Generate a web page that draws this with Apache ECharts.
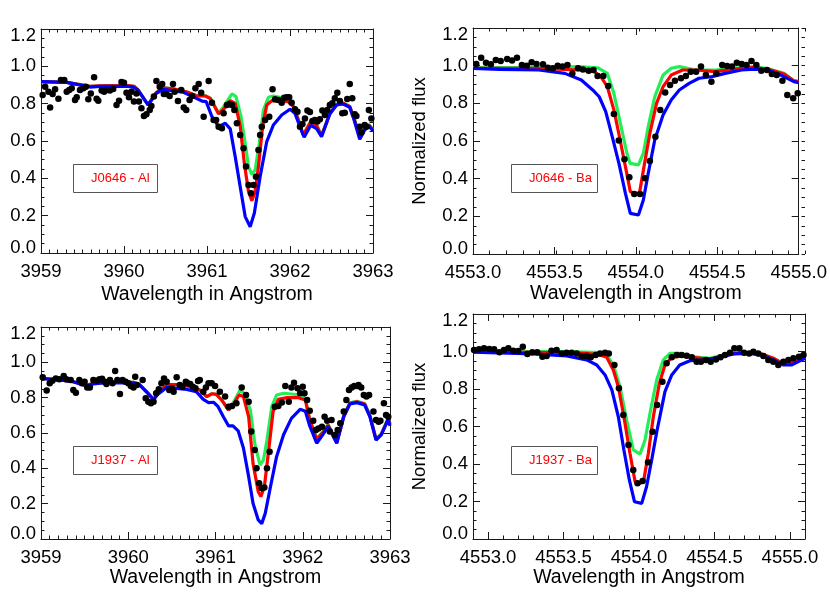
<!DOCTYPE html>
<html><head><meta charset="utf-8">
<script src="https://cdn.jsdelivr.net/npm/echarts@6/dist/echarts.min.js"></script>
<style>html,body{margin:0;padding:0;background:#fff}#c{width:830px;height:593px}</style>
</head><body><div id="c"></div>
<script>
// ---------------- DATA ----------------
// Tick values
const alXMajor = [3959, 3960, 3961, 3962, 3963];
const baXMajor = [4553.0, 4553.5, 4554.0, 4554.5, 4555.0];
const yMajor = [0.0, 0.2, 0.4, 0.6, 0.8, 1.0, 1.2];

// Panel labels
const panelLabels = ['J0646 - Al', 'J0646 - Ba', 'J1937 - Al', 'J1937 - Ba'];
const xTitle = 'Wavelength in Angstrom';
const yTitle = 'Normalized flux';

// ---- J0646 - Al ----
const j0646AlObs = [[3959.02,0.846],[3959.05,0.891],[3959.09,0.864],[3959.11,0.78],[3959.14,0.852],[3959.17,0.877],[3959.21,0.827],[3959.24,0.927],[3959.28,0.927],[3959.31,0.864],[3959.34,0.873],[3959.37,0.882],[3959.41,0.82],[3959.43,0.834],[3959.47,0.873],[3959.51,0.882],[3959.54,0.891],[3959.57,0.823],[3959.60,0.855],[3959.64,0.941],[3959.67,0.827],[3959.69,0.816],[3959.73,0.87],[3959.76,0.864],[3959.79,0.873],[3959.83,0.87],[3959.87,0.879],[3959.91,0.793],[3959.94,0.816],[3959.97,0.916],[3960.00,0.912],[3960.03,0.859],[3960.06,0.834],[3960.09,0.864],[3960.12,0.811],[3960.15,0.855],[3960.18,0.811],[3960.21,0.775],[3960.24,0.734],[3960.27,0.743],[3960.31,0.766],[3960.33,0.788],[3960.36,0.838],[3960.39,0.921],[3960.43,0.891],[3960.46,0.905],[3960.48,0.852],[3960.51,0.852],[3960.55,0.841],[3960.59,0.905],[3960.61,0.864],[3960.65,0.814],[3960.69,0.873],[3960.72,0.78],[3960.75,0.766],[3960.79,0.82],[3960.82,0.841],[3960.86,0.882],[3960.90,0.905],[3960.93,0.859],[3960.96,0.73],[3961.02,0.921],[3961.06,0.805],[3961.08,0.713],[3961.11,0.713],[3961.14,0.677],[3961.18,0.668],[3961.20,0.748],[3961.24,0.793],[3961.27,0.798],[3961.30,0.793],[3961.33,0.766],[3961.36,0.695],[3961.40,0.632],[3961.44,0.561],[3961.47,0.463],[3961.50,0.364],[3961.53,0.32],[3961.56,0.364],[3961.59,0.409],[3961.62,0.552],[3961.64,0.632],[3961.66,0.677],[3961.70,0.713],[3961.75,0.73],[3961.79,0.877],[3961.82,0.823],[3961.86,0.82],[3961.90,0.805],[3961.93,0.832],[3961.96,0.834],[3961.99,0.834],[3962.02,0.805],[3962.06,0.77],[3962.09,0.757],[3962.12,0.677],[3962.15,0.691],[3962.18,0.721],[3962.21,0.763],[3962.24,0.755],[3962.27,0.707],[3962.30,0.713],[3962.33,0.704],[3962.36,0.716],[3962.39,0.763],[3962.42,0.739],[3962.45,0.766],[3962.48,0.793],[3962.51,0.802],[3962.54,0.829],[3962.57,0.859],[3962.60,0.814],[3962.63,0.748],[3962.66,0.752],[3962.69,0.825],[3962.72,0.905],[3962.75,0.829],[3962.78,0.743],[3962.80,0.734],[3962.84,0.677],[3962.86,0.645],[3962.90,0.686],[3962.92,0.677],[3962.95,0.766],[3962.98,0.721]];
const j0646AlGreen = [[3959.00,0.918],[3959.31,0.914],[3959.59,0.893],[3959.71,0.895],[3960.05,0.897],[3960.12,0.893],[3960.17,0.873],[3960.29,0.793],[3960.39,0.86],[3960.47,0.885],[3960.59,0.879],[3960.75,0.864],[3960.88,0.843],[3960.98,0.843],[3961.04,0.83],[3961.14,0.75],[3961.20,0.784],[3961.30,0.852],[3961.35,0.838],[3961.41,0.73],[3961.46,0.588],[3961.50,0.463],[3961.54,0.42],[3961.58,0.445],[3961.63,0.588],[3961.68,0.766],[3961.74,0.834],[3961.80,0.841],[3961.94,0.829],[3962.01,0.815],[3962.04,0.787],[3962.10,0.715],[3962.16,0.634],[3962.25,0.705],[3962.32,0.686],[3962.38,0.629],[3962.48,0.75],[3962.56,0.795],[3962.64,0.804],[3962.72,0.786],[3962.77,0.724],[3962.84,0.625],[3962.90,0.67],[3962.95,0.688],[3963.0,0.661]];
const j0646AlRed = [[3959.00,0.918],[3959.31,0.914],[3959.59,0.893],[3959.71,0.895],[3960.05,0.897],[3960.12,0.893],[3960.17,0.873],[3960.29,0.793],[3960.39,0.86],[3960.47,0.885],[3960.59,0.879],[3960.75,0.864],[3960.88,0.841],[3960.98,0.841],[3961.04,0.828],[3961.14,0.745],[3961.20,0.77],[3961.28,0.816],[3961.34,0.802],[3961.40,0.68],[3961.45,0.48],[3961.50,0.33],[3961.54,0.28],[3961.58,0.33],[3961.62,0.463],[3961.67,0.677],[3961.72,0.793],[3961.78,0.816],[3961.98,0.811],[3962.04,0.784],[3962.10,0.713],[3962.16,0.632],[3962.25,0.703],[3962.32,0.684],[3962.38,0.627],[3962.48,0.748],[3962.56,0.793],[3962.64,0.802],[3962.72,0.784],[3962.77,0.722],[3962.84,0.623],[3962.90,0.668],[3962.95,0.686],[3963.0,0.659]];
const j0646AlBlue = [[3959.00,0.918],[3959.31,0.914],[3959.59,0.889],[3959.71,0.893],[3960.05,0.893],[3960.11,0.889],[3960.17,0.873],[3960.29,0.793],[3960.39,0.855],[3960.47,0.877],[3960.71,0.862],[3960.84,0.835],[3960.94,0.814],[3960.99,0.811],[3961.06,0.73],[3961.14,0.677],[3961.22,0.695],[3961.28,0.665],[3961.34,0.516],[3961.40,0.355],[3961.46,0.195],[3961.52,0.141],[3961.57,0.213],[3961.64,0.409],[3961.72,0.597],[3961.80,0.686],[3961.90,0.739],[3962.00,0.77],[3962.06,0.748],[3962.12,0.677],[3962.17,0.62],[3962.25,0.684],[3962.32,0.666],[3962.38,0.623],[3962.48,0.745],[3962.56,0.793],[3962.64,0.798],[3962.72,0.78],[3962.77,0.716],[3962.84,0.609],[3962.90,0.659],[3962.95,0.68],[3963.0,0.655]];

// ---- J0646 - Ba ----
const j0646BaObs = [[4553.02,1.009],[4553.05,1.042],[4553.08,1.016],[4553.11,1.007],[4553.14,1.03],[4553.17,1.025],[4553.21,1.035],[4553.24,1.027],[4553.27,1.042],[4553.30,1.004],[4553.33,1.0],[4553.36,1.018],[4553.39,1.009],[4553.43,1.007],[4553.46,0.989],[4553.49,0.986],[4553.52,1.0],[4553.55,0.995],[4553.58,1.004],[4553.61,0.959],[4553.645,0.986],[4553.675,0.98],[4553.71,0.973],[4553.74,0.977],[4553.765,0.945],[4553.80,0.945],[4553.83,0.892],[4553.865,0.743],[4553.895,0.602],[4553.93,0.503],[4553.96,0.407],[4553.99,0.319],[4554.026,0.319],[4554.056,0.402],[4554.086,0.494],[4554.12,0.623],[4554.15,0.765],[4554.18,0.857],[4554.21,0.897],[4554.24,0.92],[4554.277,0.933],[4554.307,0.945],[4554.337,0.968],[4554.37,0.968],[4554.40,0.995],[4554.43,0.95],[4554.464,0.915],[4554.494,0.959],[4554.53,1.004],[4554.56,0.998],[4554.59,0.995],[4554.62,1.016],[4554.65,1.009],[4554.68,1.004],[4554.71,1.025],[4554.74,1.004],[4554.77,0.973],[4554.805,0.977],[4554.835,0.956],[4554.865,0.95],[4554.90,0.92],[4554.93,0.844],[4554.966,0.827],[4554.994,0.853]];
const j0646BaGreen = [[4553.0,0.99],[4553.36,0.99],[4553.645,0.995],[4553.765,0.989],[4553.825,0.959],[4553.865,0.853],[4553.905,0.694],[4553.945,0.535],[4553.965,0.481],[4554.016,0.473],[4554.046,0.535],[4554.076,0.676],[4554.116,0.835],[4554.167,0.95],[4554.217,0.986],[4554.267,0.995],[4554.367,0.977],[4554.488,0.977],[4554.588,0.986],[4554.729,0.995],[4554.829,0.98],[4554.91,0.959],[4554.97,0.92],[4555.0,0.915]];
const j0646BaRed = [[4553.0,0.986],[4553.363,0.986],[4553.665,0.977],[4553.745,0.968],[4553.785,0.942],[4553.825,0.888],[4553.865,0.765],[4553.895,0.641],[4553.936,0.464],[4553.966,0.331],[4553.996,0.322],[4554.022,0.322],[4554.05,0.464],[4554.086,0.641],[4554.127,0.8],[4554.167,0.888],[4554.217,0.95],[4554.287,0.977],[4554.367,0.977],[4554.488,0.968],[4554.588,0.98],[4554.729,0.991],[4554.829,0.977],[4554.91,0.956],[4554.97,0.919],[4555.0,0.915]];
const j0646BaBlue = [[4553.0,0.986],[4553.163,0.98],[4553.404,0.977],[4553.564,0.959],[4553.665,0.924],[4553.735,0.871],[4553.775,0.835],[4553.815,0.756],[4553.855,0.623],[4553.896,0.481],[4553.936,0.322],[4553.966,0.216],[4554.016,0.207],[4554.046,0.287],[4554.076,0.428],[4554.116,0.605],[4554.167,0.738],[4554.217,0.818],[4554.267,0.871],[4554.327,0.906],[4554.388,0.933],[4554.468,0.942],[4554.548,0.959],[4554.649,0.977],[4554.729,0.982],[4554.81,0.977],[4554.89,0.95],[4554.97,0.915],[4555.0,0.91]];

// ---- J1937 - Al ----
const j1937AlObs = [[3959.02,0.915],[3959.065,0.84],[3959.10,0.881],[3959.13,0.896],[3959.17,0.909],[3959.21,0.904],[3959.26,0.923],[3959.29,0.904],[3959.34,0.9],[3959.37,0.843],[3959.40,0.828],[3959.44,0.9],[3959.47,0.881],[3959.50,0.89],[3959.53,0.858],[3959.56,0.858],[3959.60,0.9],[3959.64,0.896],[3959.67,0.904],[3959.70,0.907],[3959.73,0.89],[3959.75,0.877],[3959.79,0.9],[3959.82,0.881],[3959.85,0.951],[3959.875,0.9],[3959.905,0.821],[3959.935,0.9],[3959.97,0.89],[3960.00,0.881],[3960.03,0.866],[3960.06,0.858],[3960.08,0.919],[3960.10,0.872],[3960.165,0.9],[3960.20,0.796],[3960.23,0.777],[3960.26,0.768],[3960.29,0.777],[3960.32,0.825],[3960.35,0.847],[3960.38,0.881],[3960.41,0.909],[3960.44,0.89],[3960.47,0.843],[3960.50,0.853],[3960.52,0.834],[3960.555,0.915],[3960.59,0.872],[3960.62,0.862],[3960.66,0.89],[3960.68,0.881],[3960.71,0.877],[3960.74,0.862],[3960.77,0.853],[3960.80,0.894],[3960.82,0.9],[3960.86,0.834],[3960.89,0.858],[3960.92,0.881],[3960.956,0.881],[3960.995,0.866],[3961.05,0.834],[3961.11,0.806],[3961.15,0.749],[3961.19,0.753],[3961.24,0.768],[3961.30,0.858],[3961.35,0.815],[3961.38,0.777],[3961.41,0.608],[3961.45,0.504],[3961.47,0.4],[3961.50,0.315],[3961.53,0.287],[3961.56,0.292],[3961.59,0.4],[3961.62,0.494],[3961.68,0.749],[3961.72,0.753],[3961.76,0.772],[3961.80,0.866],[3961.84,0.777],[3961.87,0.858],[3961.90,0.885],[3961.94,0.853],[3961.97,0.825],[3962.00,0.862],[3962.02,0.825],[3962.05,0.787],[3962.08,0.726],[3962.12,0.67],[3962.15,0.617],[3962.18,0.626],[3962.22,0.636],[3962.25,0.692],[3962.28,0.67],[3962.31,0.608],[3962.33,0.674],[3962.37,0.589],[3962.40,0.617],[3962.43,0.655],[3962.47,0.721],[3962.50,0.787],[3962.53,0.843],[3962.56,0.858],[3962.59,0.866],[3962.62,0.866],[3962.64,0.872],[3962.67,0.858],[3962.70,0.815],[3962.73,0.806],[3962.76,0.815],[3962.81,0.721],[3962.84,0.674],[3962.87,0.664],[3962.89,0.67],[3962.93,0.768],[3962.955,0.702],[3962.98,0.692]];
const j1937AlGreen = [[3959.0,0.909],[3959.22,0.9],[3959.37,0.89],[3959.52,0.87],[3959.60,0.881],[3959.75,0.889],[3960.06,0.887],[3960.13,0.874],[3960.21,0.834],[3960.29,0.79],[3960.34,0.824],[3960.44,0.874],[3960.59,0.874],[3960.73,0.862],[3960.82,0.843],[3960.90,0.806],[3960.96,0.822],[3961.01,0.819],[3961.07,0.787],[3961.15,0.73],[3961.20,0.768],[3961.28,0.84],[3961.33,0.825],[3961.40,0.73],[3961.45,0.54],[3961.51,0.419],[3961.55,0.447],[3961.59,0.56],[3961.645,0.749],[3961.70,0.815],[3961.78,0.825],[3961.99,0.815],[3962.03,0.79],[3962.08,0.677],[3962.16,0.567],[3962.24,0.611],[3962.29,0.648],[3962.39,0.548],[3962.47,0.699],[3962.54,0.771],[3962.62,0.78],[3962.71,0.767],[3962.77,0.699],[3962.84,0.567],[3962.90,0.595],[3962.98,0.684],[3963.0,0.652]];
const j1937AlRed = [[3959.0,0.909],[3959.22,0.9],[3959.37,0.89],[3959.52,0.87],[3959.60,0.881],[3959.75,0.889],[3960.06,0.887],[3960.13,0.874],[3960.21,0.834],[3960.29,0.79],[3960.34,0.824],[3960.44,0.874],[3960.59,0.874],[3960.73,0.862],[3960.82,0.843],[3960.90,0.806],[3960.96,0.822],[3961.01,0.819],[3961.07,0.787],[3961.15,0.73],[3961.20,0.758],[3961.27,0.815],[3961.32,0.806],[3961.38,0.692],[3961.43,0.428],[3961.49,0.268],[3961.52,0.24],[3961.56,0.296],[3961.61,0.504],[3961.66,0.721],[3961.72,0.79],[3961.82,0.8],[3961.95,0.8],[3962.03,0.787],[3962.08,0.674],[3962.16,0.564],[3962.24,0.608],[3962.29,0.645],[3962.39,0.545],[3962.47,0.696],[3962.54,0.768],[3962.62,0.777],[3962.71,0.764],[3962.77,0.696],[3962.84,0.564],[3962.90,0.592],[3962.98,0.681],[3963.0,0.65]];
const j1937AlBlue = [[3959.0,0.909],[3959.22,0.9],[3959.37,0.89],[3959.52,0.866],[3959.60,0.878],[3959.75,0.885],[3960.06,0.883],[3960.13,0.872],[3960.21,0.832],[3960.29,0.788],[3960.34,0.82],[3960.44,0.858],[3960.67,0.847],[3960.78,0.834],[3960.86,0.79],[3960.92,0.772],[3960.98,0.774],[3961.03,0.749],[3961.09,0.692],[3961.15,0.64],[3961.20,0.64],[3961.26,0.612],[3961.32,0.515],[3961.38,0.353],[3961.43,0.202],[3961.49,0.108],[3961.53,0.087],[3961.57,0.145],[3961.63,0.296],[3961.70,0.466],[3961.78,0.59],[3961.87,0.683],[3961.97,0.734],[3962.03,0.723],[3962.08,0.64],[3962.16,0.542],[3962.24,0.598],[3962.29,0.638],[3962.39,0.542],[3962.47,0.692],[3962.54,0.764],[3962.62,0.772],[3962.71,0.758],[3962.77,0.692],[3962.84,0.56],[3962.90,0.589],[3962.98,0.677],[3963.0,0.64]];

// ---- J1937 - Ba ----
const j1937BaObs = [[4552.907,1.008],[4552.94,1.012],[4552.973,1.017],[4553.008,1.013],[4553.04,1.012],[4553.075,0.996],[4553.105,1.008],[4553.134,1.017],[4553.167,1.004],[4553.2,1.003],[4553.23,1.026],[4553.26,0.987],[4553.293,0.996],[4553.326,0.996],[4553.36,0.972],[4553.388,0.976],[4553.42,1.004],[4553.454,1.008],[4553.488,0.99],[4553.52,0.994],[4553.554,0.994],[4553.587,0.99],[4553.62,0.976],[4553.65,0.976],[4553.68,0.969],[4553.713,0.981],[4553.742,0.99],[4553.775,0.994],[4553.8,0.99],[4553.837,0.928],[4553.867,0.804],[4553.896,0.661],[4553.93,0.501],[4553.962,0.368],[4553.99,0.297],[4554.024,0.309],[4554.06,0.409],[4554.09,0.572],[4554.12,0.715],[4554.155,0.839],[4554.183,0.937],[4554.217,0.969],[4554.25,0.981],[4554.283,0.981],[4554.316,0.978],[4554.35,0.969],[4554.382,0.946],[4554.41,0.946],[4554.444,0.955],[4554.475,0.946],[4554.51,0.958],[4554.54,0.969],[4554.57,0.981],[4554.603,0.994],[4554.632,1.017],[4554.665,1.017],[4554.696,0.994],[4554.73,0.99],[4554.758,0.999],[4554.79,0.99],[4554.824,0.976],[4554.857,0.955],[4554.89,0.946],[4554.923,0.928],[4554.957,0.946],[4554.99,0.955],[4555.023,0.964],[4555.06,0.972],[4555.09,0.981]];
const j1937BaGreen = [[4552.9,0.999],[4553.52,0.999],[4553.74,0.994],[4553.786,0.981],[4553.83,0.928],[4553.874,0.812],[4553.918,0.635],[4553.962,0.475],[4554.007,0.453],[4554.04,0.528],[4554.077,0.688],[4554.117,0.848],[4554.161,0.955],[4554.205,0.99],[4554.27,0.99],[4554.36,0.972],[4554.47,0.964],[4554.58,0.987],[4554.67,0.996],[4554.8,0.99],[4554.89,0.964],[4554.957,0.937],[4555.0,0.937],[4555.045,0.951],[4555.1,0.969]];
const j1937BaRed = [[4552.9,0.999],[4553.3,0.996],[4553.653,0.99],[4553.74,0.981],[4553.786,0.969],[4553.83,0.901],[4553.863,0.812],[4553.9,0.652],[4553.94,0.457],[4553.974,0.306],[4554.007,0.297],[4554.03,0.306],[4554.062,0.457],[4554.095,0.652],[4554.135,0.83],[4554.172,0.928],[4554.217,0.969],[4554.294,0.976],[4554.36,0.969],[4554.47,0.958],[4554.58,0.981],[4554.67,0.994],[4554.8,0.99],[4554.89,0.964],[4554.957,0.933],[4555.0,0.933],[4555.045,0.949],[4555.1,0.969]];
const j1937BaBlue = [[4552.9,0.996],[4553.3,0.987],[4553.52,0.976],[4553.653,0.955],[4553.72,0.928],[4553.775,0.875],[4553.82,0.795],[4553.863,0.652],[4553.9,0.475],[4553.936,0.315],[4553.97,0.199],[4554.018,0.19],[4554.05,0.279],[4554.084,0.421],[4554.12,0.581],[4554.172,0.786],[4554.217,0.875],[4554.27,0.928],[4554.338,0.951],[4554.426,0.955],[4554.537,0.969],[4554.625,0.987],[4554.736,0.99],[4554.824,0.978],[4554.89,0.955],[4554.957,0.928],[4555.01,0.928],[4555.056,0.946],[4555.1,0.964]];

// ---------------- CHART ----------------
const FONT = '"Liberation Sans", Arial, Helvetica, sans-serif';
const C_GREEN = '#22ee55', C_RED = '#ff0000', C_BLUE = '#0000ff';

function steps(a, b, s) { const out = []; const n = Math.round((b - a) / s); for (let i = 0; i <= n; i++) out.push(Math.round((a + i * s) * 1000) / 1000); return out; }

const panels = [
  { rect:{left:41, top:29, width:332, height:224}, xmin:3959, xmax:3963, xMajor:alXMajor, xMinor:steps(3959,3963,0.1), xDec:0, xGap:32, yName:false,
    obs:j0646AlObs, green:j0646AlGreen, red:j0646AlRed, blue:j0646AlBlue, label:panelLabels[0], box:{left:73, top:164, pr:8} },
  { rect:{left:473, top:28, width:332, height:226}, xmin:4553, xmax:4555, xMajor:baXMajor, xMinor:steps(4553,4555,0.1), xDec:1, xGap:30, yName:true,
    obs:j0646BaObs, green:j0646BaGreen, red:j0646BaRed, blue:j0646BaBlue, label:panelLabels[1], box:{left:511, top:164, pr:6} },
  { rect:{left:41, top:327, width:349, height:212}, xmin:3959, xmax:3963, xMajor:alXMajor, xMinor:steps(3959,3963,0.1), xDec:0, xGap:28, yName:false,
    obs:j1937AlObs, green:j1937AlGreen, red:j1937AlRed, blue:j1937AlBlue, label:panelLabels[2], box:{left:73, top:446, pr:8} },
  { rect:{left:473, top:314, width:332, height:225}, xmin:4552.9, xmax:4555.1, xMajor:baXMajor, xMinor:steps(4552.9,4555.1,0.1), xDec:1, xGap:29, yName:true,
    obs:j1937BaObs, green:j1937BaGreen, red:j1937BaRed, blue:j1937BaBlue, label:panelLabels[3], box:{left:511, top:446, pr:6} }
];

const yMinor = steps(0, 1.2, 0.05);
const LABEL_SIZE = 18.5;
const option = { animation:false, backgroundColor:'#ffffff', textStyle:{fontFamily:FONT},
  grid:[], xAxis:[], yAxis:[], series:[], title:[] };

function axis(extra, ticks, len, showLine) {
  return Object.assign({
    type:'value', splitLine:{show:false}, minorTick:{show:false}, minorSplitLine:{show:false},
    axisLine:{show:showLine, onZero:false, lineStyle:{color:'#1a1a1a', width:1}},
    axisTick:{show:true, inside:true, length:len, customValues:ticks, lineStyle:{color:'#1a1a1a', width:1}},
    axisLabel:{show:false}, axisPointer:{show:false}
  }, extra);
}

panels.forEach(p => {
  const gMain = option.grid.length;
  option.grid.push(Object.assign({containLabel:false}, p.rect));
  option.grid.push(Object.assign({containLabel:false}, p.rect));
  const gMinor = gMain + 1;
  const xi = option.xAxis.length, yi = option.yAxis.length;
  // X axes
  option.xAxis.push(axis({gridIndex:gMain, position:'bottom', min:p.xmin, max:p.xmax,
    axisLabel:{show:true, customValues:p.xMajor, color:'#000', fontSize:LABEL_SIZE, fontFamily:FONT, margin:9,
      formatter: v => Number(v).toFixed(p.xDec)},
    name:xTitle, nameLocation:'middle', nameGap:p.xGap, nameTextStyle:{color:'#000', fontSize:19.5, fontFamily:FONT}
  }, p.xMajor, 7, true));
  option.xAxis.push(axis({gridIndex:gMain, position:'top', min:p.xmin, max:p.xmax}, p.xMajor, 7, true));
  option.xAxis.push(axis({gridIndex:gMinor, position:'bottom', min:p.xmin, max:p.xmax}, p.xMinor, 3.5, false));
  option.xAxis.push(axis({gridIndex:gMinor, position:'top', min:p.xmin, max:p.xmax}, p.xMinor, 3.5, false));
  // Y axes
  const yMain = axis({gridIndex:gMain, position:'left', min:0, max:1.2,
    axisLabel:{show:true, customValues:yMajor, color:'#000', fontSize:LABEL_SIZE, fontFamily:FONT, margin:5,
      formatter: v => { const s = Number(v).toFixed(1); if (Math.abs(v - 1.2) < 1e-6) return '{t|' + s + '}'; if (Math.abs(v) < 1e-6) return '{b|' + s + '}'; return s; },
      rich:{ t:{padding:[14,0,0,0], fontSize:LABEL_SIZE, fontFamily:FONT, color:'#000'}, b:{padding:[0,0,11,0], fontSize:LABEL_SIZE, fontFamily:FONT, color:'#000'} }
    }
  }, yMajor, 7, true);
  if (p.yName) Object.assign(yMain, {name:yTitle, nameLocation:'middle', nameGap:44, nameTextStyle:{color:'#000', fontSize:18.5, fontFamily:FONT}});
  option.yAxis.push(yMain);
  option.yAxis.push(axis({gridIndex:gMain, position:'right', min:0, max:1.2}, yMajor, 7, true));
  option.yAxis.push(axis({gridIndex:gMinor, position:'left', min:0, max:1.2}, yMinor, 3.5, false));
  option.yAxis.push(axis({gridIndex:gMinor, position:'right', min:0, max:1.2}, yMinor, 3.5, false));
  // Series
  const line = (data, color) => ({type:'line', xAxisIndex:xi, yAxisIndex:yi, data:data, showSymbol:false, symbol:'none',
    lineStyle:{color:color, width:3.2}, itemStyle:{color:color}, clip:true, silent:true, z:3});
  option.series.push(line(p.green, C_GREEN));
  option.series.push(line(p.red, C_RED));
  option.series.push(line(p.blue, C_BLUE));
  option.series.push({type:'scatter', xAxisIndex:xi, yAxisIndex:yi, data:p.obs, symbol:'circle', symbolSize:6.5,
    itemStyle:{color:'#000', opacity:1}, clip:true, silent:true, z:4});
  // label box
  option.title.push({text:p.label, left:p.box.left, top:p.box.top, padding:[7, p.box.pr, 7, 18],
    borderColor:'#555', borderWidth:1,
    textStyle:{color:'#ff0000', fontSize:13, fontWeight:'normal', fontFamily:FONT, lineHeight:15}});
});

const chart = echarts.init(document.getElementById('c'), null, {renderer:'canvas'});
chart.setOption(option);
</script>
</body></html>
